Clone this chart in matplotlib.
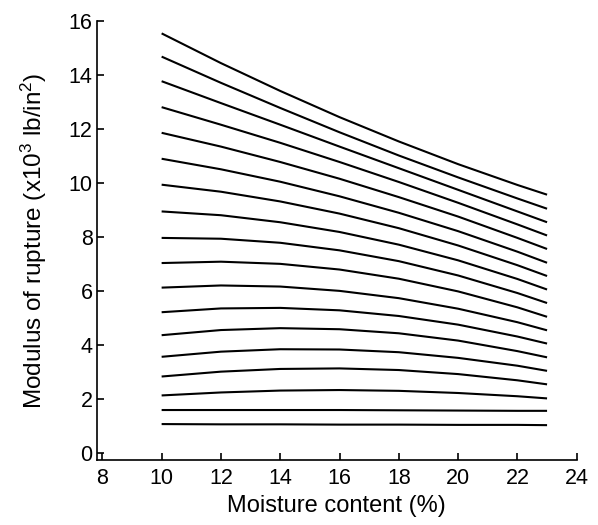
import matplotlib
matplotlib.use('Agg')
import matplotlib.pyplot as plt

plt.rcParams['font.family'] = ['Liberation Sans', 'DejaVu Sans']
plt.rcParams['mathtext.fontset'] = 'custom'
plt.rcParams['mathtext.rm'] = 'Liberation Sans'
plt.rcParams['mathtext.default'] = 'regular'

# moisture content (%) where each curve is read
moisture = [10, 12, 14, 16, 18, 20, 22, 23]

# modulus of rupture (x10^3 lb/in^2), one list per curve, bottom to top
curves = [
    [1.07, 1.06, 1.06, 1.05, 1.05, 1.04, 1.04, 1.03],
    [1.59, 1.59, 1.59, 1.59, 1.58, 1.57, 1.56, 1.56],
    [2.13, 2.24, 2.31, 2.33, 2.30, 2.22, 2.10, 2.02],
    [2.83, 3.01, 3.11, 3.13, 3.07, 2.92, 2.69, 2.54],
    [3.56, 3.75, 3.84, 3.83, 3.73, 3.52, 3.23, 3.04],
    [4.36, 4.55, 4.62, 4.58, 4.43, 4.16, 3.77, 3.54],
    [5.21, 5.35, 5.37, 5.28, 5.07, 4.75, 4.31, 4.05],
    [6.12, 6.20, 6.16, 6.00, 5.73, 5.34, 4.84, 4.54],
    [7.03, 7.08, 7.00, 6.79, 6.45, 5.98, 5.39, 5.04],
    [7.96, 7.93, 7.78, 7.50, 7.10, 6.57, 5.92, 5.55],
    [8.94, 8.80, 8.54, 8.18, 7.71, 7.13, 6.44, 6.05],
    [9.93, 9.67, 9.31, 8.86, 8.32, 7.68, 6.95, 6.55],
    [10.89, 10.50, 10.04, 9.50, 8.89, 8.21, 7.45, 7.04],
    [11.85, 11.34, 10.77, 10.15, 9.47, 8.75, 7.96, 7.55],
    [12.80, 12.15, 11.48, 10.77, 10.03, 9.26, 8.46, 8.05],
    [13.76, 12.95, 12.15, 11.34, 10.54, 9.74, 8.94, 8.54],
    [14.67, 13.70, 12.77, 11.87, 11.01, 10.20, 9.42, 9.04],
    [15.53, 14.43, 13.40, 12.43, 11.53, 10.69, 9.92, 9.56],
]

x_ticks = [8, 10, 12, 14, 16, 18, 20, 22, 24]
y_ticks = [0, 2, 4, 6, 8, 10, 12, 14, 16]

fig = plt.figure(figsize=(5.98, 5.25), dpi=100)
ax = fig.add_axes([0.1617, 0.1238, 0.8027, 0.8368])

for vals in curves:
    ax.plot(moisture, vals, color='black', lw=1.5, solid_capstyle='butt')

ax.set_xlim(7.81, 24)
ax.set_ylim(-0.26, 16)
ax.set_xticks(x_ticks)
ax.set_yticks(y_ticks)
ax.spines['top'].set_visible(False)
ax.spines['right'].set_visible(False)
for s in ('left', 'bottom'):
    ax.spines[s].set_linewidth(1.2)
ax.tick_params(direction='in', length=5, width=1.2, labelsize=15.5)
ax.tick_params(axis='y', pad=3)
ax.tick_params(axis='x', pad=6)

ax.set_xlabel('Moisture content (%)', fontsize=17, labelpad=4)
ax.set_ylabel('Modulus of rupture (x10$^3$ lb/in$^2$)', fontsize=17.5, labelpad=14)

fig.savefig('out.png', dpi=100)
